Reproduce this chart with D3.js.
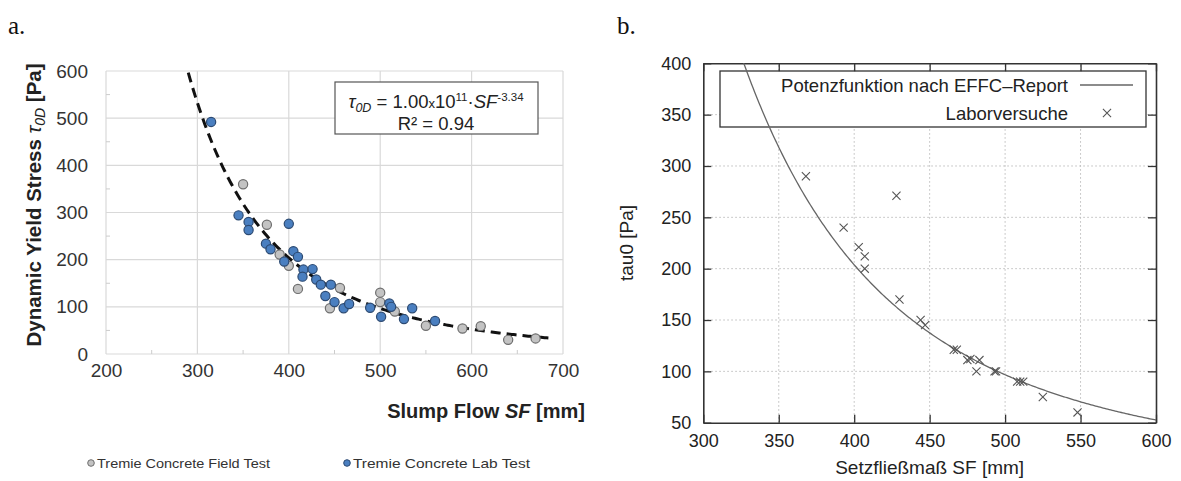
<!DOCTYPE html>
<html><head><meta charset="utf-8">
<script src="https://cdn.jsdelivr.net/npm/d3@7"></script>
<style>body{margin:0;background:#fff}svg{display:block}</style>
</head><body>
<svg id="c" width="1181" height="481"></svg>
<script>
// ---------- data: chart a ----------
const labSF  = [315,345,356,356,375,380,395,400,405,410,416,426,415,430,435,446,440,450,460,466,489,501,510,512,526,535,560];
const labTau = [492,294,280,263,234,222,196,276,218,206,179,180,164,158,147,147,123,110,97,106,98,79,107,100,74,97,70];
const fieldSF  = [350,376,390,400,410,456,445,500,500,516,550,590,610,640,670];
const fieldTau = [360,274,211,187,138,140,97,130,110,90,60,54,59,30,33];
const aXTicks = [200,300,400,500,600,700];
const aYTicks = [0,100,200,300,400,500,600];
const fitCoef = 1.00e11, fitExp = -3.34;
const aLegend = ["Tremie Concrete Field Test","Tremie Concrete Lab Test"];
// ---------- data: chart b ----------
const bSF  = [368,393,403,407,407,428,430,444,447,466,468,475,477,483,481,493,494,508,510,512,525,548];
const bTau = [290,240,221,212,200,271,170,150,145,121,121,111,112,111,100,100,100,90,90,90,75,60];
const bXTicks = [300,350,400,450,500,550,600];
const bYTicks = [50,100,150,200,250,300,350,400];
const bLegend = ["Potenzfunktion nach EFFC\u2013Report","Laborversuche"];

const svg = d3.select("#c");
const sans = "'Liberation Sans', Arial, sans-serif";

// panel labels
svg.append("text").attr("x",8).attr("y",34).text("a.").attr("font-family","'Liberation Serif','DejaVu Serif',serif").attr("font-size",25).attr("fill","#111");
svg.append("text").attr("x",617).attr("y",34).text("b.").attr("font-family","'Liberation Serif','DejaVu Serif',serif").attr("font-size",25).attr("fill","#111");

// ================= chart a =================
const xA = d3.scaleLinear().domain([200,700]).range([106,563]);
const yA = d3.scaleLinear().domain([0,600]).range([354,71]);
const gA = svg.append("g");
gA.append("g").selectAll("line").data(aYTicks).join("line")
  .attr("x1",xA(200)).attr("x2",xA(700)).attr("y1",d=>yA(d)).attr("y2",d=>yA(d))
  .attr("stroke","#d9d9d9").attr("stroke-width",1.2);
gA.append("g").selectAll("line").data(aXTicks).join("line")
  .attr("y1",yA(0)).attr("y2",yA(600)).attr("x1",d=>xA(d)).attr("x2",d=>xA(d))
  .attr("stroke","#d9d9d9").attr("stroke-width",1.2);
const minorY = d3.range(50,600,100), minorX = d3.range(250,700,100);
gA.append("g").selectAll("line").data(minorY).join("line")
  .attr("x1",xA(200)).attr("x2",xA(200)+4).attr("y1",d=>yA(d)).attr("y2",d=>yA(d)).attr("stroke","#ccc");
gA.append("g").selectAll("line").data(minorX).join("line")
  .attr("y1",yA(0)).attr("y2",yA(0)-4).attr("x1",d=>xA(d)).attr("x2",d=>xA(d)).attr("stroke","#ccc");
const axY = gA.append("g").attr("transform",`translate(${xA(200)},0)`)
  .call(d3.axisLeft(yA).tickValues(aYTicks).tickSize(0).tickPadding(18));
axY.select(".domain").remove();
axY.selectAll("text").attr("font-family",sans).attr("font-size",19).attr("fill","#333");
const axX = gA.append("g").attr("transform",`translate(0,${yA(0)})`)
  .call(d3.axisBottom(xA).tickValues(aXTicks).tickSize(0).tickPadding(10));
axX.select(".domain").remove();
axX.selectAll("text").attr("font-family",sans).attr("font-size",19).attr("fill","#333");
const yt = gA.append("text").attr("transform","translate(41,205) rotate(-90)")
  .attr("text-anchor","middle").attr("font-family",sans).attr("font-size",20.5).attr("font-weight","bold").attr("fill","#222");
yt.append("tspan").text("Dynamic Yield Stress ");
yt.append("tspan").text("\u03c4").attr("font-style","italic").attr("font-weight","normal");
yt.append("tspan").text("0D").attr("font-style","italic").attr("font-weight","normal").attr("font-size",14).attr("dy",4);
yt.append("tspan").text(" [Pa]").attr("dy",-4);
const xt = gA.append("text").attr("x",585).attr("y",418).attr("text-anchor","end")
  .attr("font-family",sans).attr("font-size",20).attr("font-weight","bold").attr("fill","#222");
xt.append("tspan").text("Slump Flow ");
xt.append("tspan").text("SF").attr("font-style","italic");
xt.append("tspan").text(" [mm]");
const fitX = d3.range(290,690.5,2);
gA.append("path").datum(fitX)
  .attr("d",d3.line().x(d=>xA(d)).y(d=>yA(fitCoef*Math.pow(d,fitExp))))
  .attr("fill","none").attr("stroke","#111").attr("stroke-width",3).attr("stroke-dasharray","10,6");
const field = fieldSF.map((s,i)=>({s,t:fieldTau[i]}));
const lab = labSF.map((s,i)=>({s,t:labTau[i]}));
gA.append("g").selectAll("circle").data(field).join("circle")
  .attr("cx",d=>xA(d.s)).attr("cy",d=>yA(d.t)).attr("r",4.6)
  .attr("fill","#c3c3c3").attr("stroke","#6e6e6e").attr("stroke-width",1.2);
gA.append("g").selectAll("circle").data(lab).join("circle")
  .attr("cx",d=>xA(d.s)).attr("cy",d=>yA(d.t)).attr("r",4.6)
  .attr("fill","#4a7fc0").attr("stroke","#2c4a72").attr("stroke-width",1.2);
gA.append("rect").attr("x",335).attr("y",82).attr("width",203).attr("height",52)
  .attr("fill","#fff").attr("stroke","#555").attr("stroke-width",1.2);
const eq = gA.append("text").attr("x",436).attr("y",108).attr("text-anchor","middle")
  .attr("font-family",sans).attr("font-size",18.5).attr("fill","#222");
eq.append("tspan").text("\u03c4").attr("font-style","italic");
eq.append("tspan").text("0D").attr("font-style","italic").attr("font-size",12.5).attr("dy",4);
eq.append("tspan").text(" = 1.00").attr("dy",-4);
eq.append("tspan").text("x").attr("font-size",13);
eq.append("tspan").text("10");
eq.append("tspan").text("11").attr("font-size",11.5).attr("dy",-7);
eq.append("tspan").text("\u00b7").attr("dy",7);
eq.append("tspan").text("SF").attr("font-style","italic");
eq.append("tspan").text("-3.34").attr("font-size",11.5).attr("dy",-7);
gA.append("text").attr("x",436).attr("y",130).attr("text-anchor","middle")
  .attr("font-family",sans).attr("font-size",18.5).attr("fill","#222").text("R\u00b2 = 0.94");
const legA = gA.append("g");
[[91,"#c3c3c3","#6e6e6e",173],[347,"#4a7fc0","#2c4a72",177]].forEach((c,i)=>{
  legA.append("circle").attr("cx",c[0]).attr("cy",463).attr("r",3.3).attr("fill",c[1]).attr("stroke",c[2]);
  legA.append("text").attr("x",c[0]+6).attr("y",467.5).text(aLegend[i])
    .attr("font-family",sans).attr("font-size",13).attr("fill","#333")
    .attr("textLength",c[3]).attr("lengthAdjust","spacingAndGlyphs");
});

// ================= chart b =================
const xB = d3.scaleLinear().domain([300,600]).range([703.3,1156]);
const yB = d3.scaleLinear().domain([50,400]).range([422.7,63.3]);
const gB = svg.append("g");
gB.append("defs").append("clipPath").attr("id","clipB").append("rect")
  .attr("x",xB(300)).attr("y",yB(400)).attr("width",xB(600)-xB(300)).attr("height",yB(50)-yB(400));
gB.append("g").selectAll("line").data(bYTicks.slice(1,-1)).join("line")
  .attr("x1",xB(300)).attr("x2",xB(600)).attr("y1",d=>yB(d)).attr("y2",d=>yB(d))
  .attr("stroke","#bbb").attr("stroke-dasharray","1.5,2.5");
gB.append("g").selectAll("line").data(bXTicks.slice(1,-1)).join("line")
  .attr("y1",yB(50)).attr("y2",yB(400)).attr("x1",d=>xB(d)).attr("x2",d=>xB(d))
  .attr("stroke","#bbb").attr("stroke-dasharray","1.5,2.5");
gB.append("rect").attr("x",720).attr("y",71).attr("width",426).attr("height",56)
  .attr("fill","#fff").attr("stroke","#333").attr("stroke-width",1.3);
function styleAxis(g){ g.select(".domain").attr("stroke","#333").attr("stroke-width",1.6);
  g.selectAll(".tick line").attr("stroke","#333").attr("stroke-width",1.3);
  g.selectAll("text").attr("font-family",sans).attr("font-size",18).attr("fill","#222"); }
const bL = gB.append("g").attr("transform",`translate(${xB(300)},0)`)
  .call(d3.axisLeft(yB).tickValues(bYTicks).tickSizeInner(-8).tickSizeOuter(0).tickPadding(12));
styleAxis(bL);
const bR = gB.append("g").attr("transform",`translate(${xB(600)},0)`)
  .call(d3.axisRight(yB).tickValues(bYTicks).tickSizeInner(-8).tickSizeOuter(0).tickFormat(""));
styleAxis(bR);
const bBt = gB.append("g").attr("transform",`translate(0,${yB(50)})`)
  .call(d3.axisBottom(xB).tickValues(bXTicks).tickSizeInner(-8).tickSizeOuter(0).tickPadding(12));
styleAxis(bBt);
const bT = gB.append("g").attr("transform",`translate(0,${yB(400)})`)
  .call(d3.axisTop(xB).tickValues(bXTicks).tickSizeInner(-8).tickSizeOuter(0).tickFormat(""));
styleAxis(bT);
gB.append("text").attr("x",(xB(300)+xB(600))/2).attr("y",474).attr("text-anchor","middle")
  .attr("font-family",sans).attr("font-size",19).attr("fill","#222").text("Setzfließmaß SF [mm]");
gB.append("text").attr("transform",`translate(633,${(yB(50)+yB(400))/2}) rotate(-90)`).attr("text-anchor","middle")
  .attr("font-family",sans).attr("font-size",19).attr("fill","#222").text("tau0 [Pa]");
const curveX = d3.range(300,600.5,1);
gB.append("path").datum(curveX).attr("clip-path","url(#clipB)")
  .attr("d",d3.line().x(d=>xB(d)).y(d=>yB(fitCoef*Math.pow(d,fitExp))))
  .attr("fill","none").attr("stroke","#666").attr("stroke-width",1.3);
const cross = d3.symbol().type(d3.symbolTimes).size(45);
const bPts = bSF.map((s,i)=>({s,t:bTau[i]}));
gB.append("g").selectAll("path").data(bPts).join("path")
  .attr("transform",d=>`translate(${xB(d.s)},${yB(d.t)})`).attr("d",cross)
  .attr("fill","none").attr("stroke","#555").attr("stroke-width",1.1);
gB.append("text").attr("x",1068).attr("y",91.5).attr("text-anchor","end")
  .attr("font-family",sans).attr("font-size",18.5).attr("fill","#222").text(bLegend[0]);
gB.append("line").attr("x1",1080).attr("x2",1133).attr("y1",85).attr("y2",85).attr("stroke","#666").attr("stroke-width",1.3);
gB.append("text").attr("x",1068).attr("y",119.5).attr("text-anchor","end")
  .attr("font-family",sans).attr("font-size",18.5).attr("fill","#222").text(bLegend[1]);
gB.append("path").attr("transform","translate(1107,113)").attr("d",cross)
  .attr("fill","none").attr("stroke","#555").attr("stroke-width",1.1);
</script>
</body></html>
